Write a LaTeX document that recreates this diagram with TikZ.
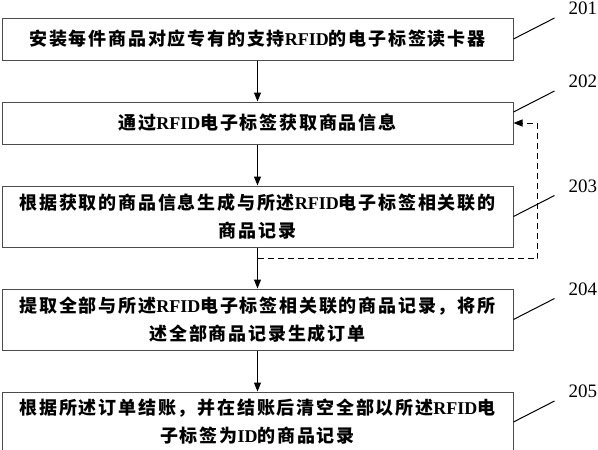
\documentclass[tikz,border=0pt]{standalone}
\usepackage{fontspec}
\setmainfont{Liberation Serif}
\newfontfamily\cjk[LetterSpace=10]{Noto Sans CJK SC}
\usepackage{tikz}
\usetikzlibrary{arrows.meta,positioning}

\newcommand{\zh}[1]{{\cjk\bfseries #1}}
\newcommand{\lat}[1]{{\bfseries #1}}

\begin{document}
\begin{tikzpicture}[
  node distance=41pt,
  every node/.style={font=\fontsize{18}{28}\selectfont},
  box/.style={draw=black!70, line width=1pt, minimum width=511pt,
              minimum height=42pt, inner sep=0pt, align=center},
  twoline/.style={box, minimum height=61pt},
  arrow/.style={-{Triangle[length=9pt,width=7pt]}, line width=1pt},
  loopback/.style={arrow, dash pattern=on 6pt off 4pt},
  lead/.style={line width=1pt},
  num/.style={font=\fontsize{19}{19}\selectfont, inner sep=0pt}
]
\useasboundingbox (0,0) rectangle (598pt,-450pt);

\node[box] (s201) at (257.5pt,-39pt)
  {\zh{安装每件商品对应专有的支持}\lat{RFID}\zh{的电子标签读卡器}};
\node[box, below=of s201] (s202)
  {\zh{通过}\lat{RFID}\zh{电子标签获取商品信息}};
\node[twoline, below=of s202] (s203)
  {\zh{根据获取的商品信息生成与所述}\lat{RFID}\zh{电子标签相关联的}\\\zh{商品记录}};
\node[twoline, below=of s203] (s204)
  {\zh{提取全部与所述}\lat{RFID}\zh{电子标签相关联的商品记录，将所}\\\zh{述全部商品记录生成订单}};
\node[twoline, below=of s204, minimum height=60pt] (s205)
  {\zh{根据所述订单结账，并在结账后清空全部以所述}\lat{RFID}\zh{电}\\\zh{子标签为}\lat{ID}\zh{的商品记录}};

\draw[arrow] (s201) -- (s202);
\draw[arrow] (s202) -- (s203);
\draw[arrow] (s203) -- (s204);
\draw[arrow] (s204) -- (s205);

% dashed return to 202
\coordinate[below=11pt of s203] (fork);
\coordinate[right=24pt of s202.east] (back);
\draw[loopback] (fork) -| (back) -- (s202.east);

% step numbers
\draw[lead] (s201.east) -- ++(41pt,21pt) coordinate (e201);
\draw[lead] ([yshift=11pt]s202.east) -- ++(41pt,21pt) coordinate (e202);
\draw[lead] (s203.east) -- ++(41pt,21pt) coordinate (e203);
\draw[lead] (s204.east) -- ++(41pt,21pt) coordinate (e204);
\draw[lead] (s205.east) -- ++(41pt,21pt) coordinate (e205);
\node[num, above right=3pt and 14pt of e201] (n201) {201};
\node[num, above right=3pt and 14pt of e202] (n202) {202};
\node[num, above right=3pt and 14pt of e203] (n203) {203};
\node[num, above right=3pt and 14pt of e204] (n204) {204};
\node[num, above right=3pt and 14pt of e205] (n205) {205};
\end{tikzpicture}
\end{document}
